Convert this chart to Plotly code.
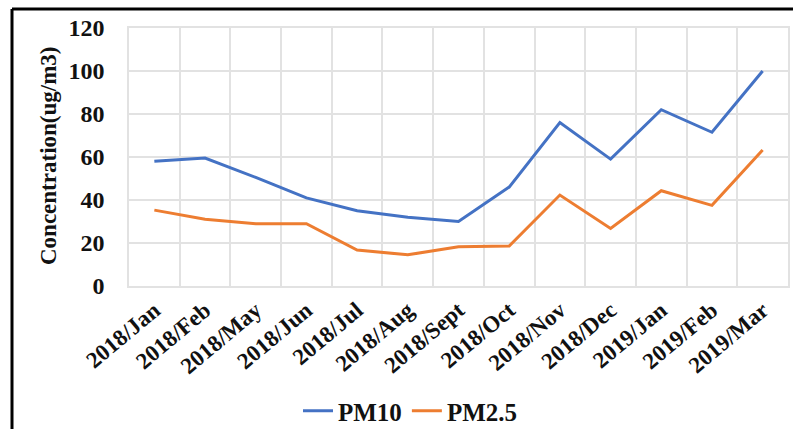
import plotly.graph_objects as go

# Monthly mean particulate matter concentrations
months = ["2018/Jan", "2018/Feb", "2018/May", "2018/Jun", "2018/Jul", "2018/Aug",
          "2018/Sept", "2018/Oct", "2018/Nov", "2018/Dec", "2019/Jan", "2019/Feb",
          "2019/Mar"]
pm10 = [58, 59.5, 50.5, 41, 35, 32, 30, 46, 76, 59, 82, 71.5, 100]
pm25 = [35.3, 31, 29, 29, 16.7, 14.5, 18.2, 18.6, 42.3, 26.8, 44.3, 37.5, 63.3]

FONT = "Liberation Serif"
W, H = 793, 429
L, R, T, B = 129, 5, 28, 143
pw, ph = W - L - R, H - T - B


def px_x(x):
    return (x - L) / pw


def px_y(y):
    return (H - B - y) / ph


fig = go.Figure()
fig.add_trace(go.Scatter(x=months, y=pm10, name="PM10", mode="lines",
                         line=dict(color="#4472C4", width=3)))
fig.add_trace(go.Scatter(x=months, y=pm25, name="PM2.5", mode="lines",
                         line=dict(color="#ED7D31", width=3)))

fig.update_layout(
    width=W, height=H,
    margin=dict(l=L, r=R, t=T, b=B, pad=0, autoexpand=False),
    paper_bgcolor="white", plot_bgcolor="white",
    font=dict(family=FONT, color="#111111"),
    showlegend=True,
    legend=dict(orientation="h", x=px_x(410), xanchor="center",
                y=px_y(411), yanchor="middle",
                font=dict(family=FONT, size=25, color="#111111", weight="bold"),
                itemwidth=30, tracegroupgap=0),
    xaxis=dict(
        type="category", range=[-0.5, 12.5], tickson="boundaries",
        showgrid=True, gridcolor="#e2e2e2", gridwidth=1.5,
        showline=True, linecolor="#e2e2e2", linewidth=1.5, mirror=True,
        ticks="", tickangle=-40, automargin=False,
        tickfont=dict(family=FONT, size=23, color="#111111", weight="bold"),
        zeroline=False, fixedrange=True,
    ),
    yaxis=dict(
        range=[0, 120], dtick=20, tick0=0,
        showgrid=True, gridcolor="#e2e2e2", gridwidth=1.5,
        showline=True, linecolor="#e2e2e2", linewidth=1.5, mirror=True,
        ticks="", ticklabelstandoff=18, automargin=False,
        tickfont=dict(family=FONT, size=24, color="#111111", weight="bold"),
        zeroline=False, fixedrange=True,
    ),
    annotations=[dict(
        text="Concentration(ug/m3)", textangle=-90,
        xref="paper", yref="paper", x=px_x(48), y=px_y(156),
        xanchor="center", yanchor="middle", showarrow=False,
        font=dict(family=FONT, size=23, color="#111111", weight="bold"),
    )],
    shapes=[
        # frame around the figure (left and top edges)
        dict(type="line", xref="paper", yref="paper",
             x0=px_x(12), x1=px_x(12), y0=px_y(9), y1=px_y(H + 5),
             line=dict(color="black", width=3)),
        dict(type="line", xref="paper", yref="paper",
             x0=px_x(12), x1=px_x(W + 5), y0=px_y(9), y1=px_y(9),
             line=dict(color="black", width=3)),
    ],
)

fig.write_html("out.html")
